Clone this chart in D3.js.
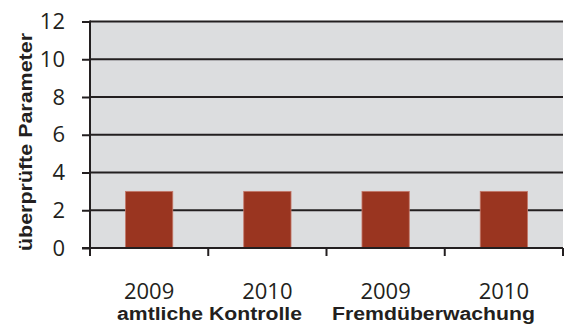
<!DOCTYPE html>
<html><head><meta charset="utf-8">
<script src="https://cdn.jsdelivr.net/npm/d3@7"></script>
<style>body{margin:0;background:#fff;}svg{display:block;}</style>
</head><body><svg id="c" width="566" height="325"></svg>
<script>
const categories = ["2009", "2010", "2009 ", "2010 "];
const years = ["2009", "2010", "2009", "2010"];
const values = [3, 3, 3, 3];
const groups = ["amtliche Kontrolle", "Fremdüberwachung"];
const yTicks = [0, 2, 4, 6, 8, 10, 12];
const yTitle = "überprüfte Parameter";

const svg = d3.select("#c");
const m = {l: 90, r: 563, t: 21.5, b: 248};
const x = d3.scaleBand().domain(categories).range([m.l, m.r]).paddingInner(0.6).paddingOuter(0.3);
const y = d3.scaleLinear().domain([0, 12]).range([m.b, m.t]);

svg.append("rect").attr("x", m.l).attr("y", m.t).attr("width", m.r - m.l).attr("height", m.b - m.t).attr("fill", "#dcdddf");

// gridlines
svg.append("g").selectAll("line").data(yTicks.filter(d => d > 0)).join("line")
  .attr("x1", m.l).attr("x2", m.r).attr("y1", d => y(d)).attr("y2", d => y(d))
  .attr("stroke", "#231f20").attr("stroke-width", 2);

// bars
svg.append("g").selectAll("rect").data(values).join("rect")
  .attr("x", (d, i) => x(categories[i])).attr("width", x.bandwidth())
  .attr("y", d => y(d)).attr("height", d => y(0) - y(d))
  .attr("fill", "#9a3520").attr("stroke", "#c4786a").attr("stroke-width", 0.8);

// y axis
const yAxis = svg.append("g").attr("transform", `translate(${m.l},0)`)
  .call(d3.axisLeft(y).tickValues(yTicks).tickSize(8).tickPadding(17));
yAxis.select(".domain").attr("stroke", "#231f20").attr("stroke-width", 2).attr("d", `M0,${m.t - 1}V${m.b + 8}`);
yAxis.selectAll(".tick line").attr("stroke", "#231f20").attr("stroke-width", 2);
yAxis.selectAll(".tick text").attr("font-family", "Open Sans, sans-serif").attr("font-size", 22).attr("fill", "#231f20");

// x axis with boundary ticks
const xb = d3.scaleLinear().domain([0, 4]).range([m.l, m.r]);
const xg = svg.append("g").attr("transform", `translate(0,${m.b})`);
xg.append("line").attr("x1", m.l - 8).attr("x2", m.r).attr("stroke", "#231f20").attr("stroke-width", 2);
xg.selectAll("line.t").data([0, 1, 2, 3, 4]).join("line").attr("class", "t")
  .attr("x1", d => xb(d)).attr("x2", d => xb(d)).attr("y1", 0).attr("y2", 8)
  .attr("stroke", "#231f20").attr("stroke-width", 2);
xg.selectAll("text").data(categories).join("text")
  .attr("x", d => x(d) + x.bandwidth() / 2).attr("y", 51)
  .attr("text-anchor", "middle").attr("font-family", "Open Sans, sans-serif").attr("font-size", 22).attr("fill", "#231f20")
  .text((d, i) => years[i]);

// group labels
const gx = [209.5, 433.5], gw = [185, 203];
svg.selectAll("text.g").data(groups).join("text").attr("class", "g")
  .attr("x", (d, i) => gx[i]).attr("y", 320)
  .attr("text-anchor", "middle").attr("font-family", "Liberation Sans, Arial, sans-serif")
  .attr("font-weight", "bold").attr("font-size", 18).attr("fill", "#231f20")
  .attr("textLength", (d, i) => gw[i]).attr("lengthAdjust", "spacingAndGlyphs").text(d => d);

// y title
svg.append("text").attr("transform", `translate(32,142) rotate(-90)`)
  .attr("text-anchor", "middle").attr("font-family", "Liberation Sans, Arial, sans-serif")
  .attr("font-weight", "bold").attr("font-size", 18).attr("fill", "#231f20")
  .attr("textLength", 218).attr("lengthAdjust", "spacingAndGlyphs").text(yTitle);
</script></body></html>
